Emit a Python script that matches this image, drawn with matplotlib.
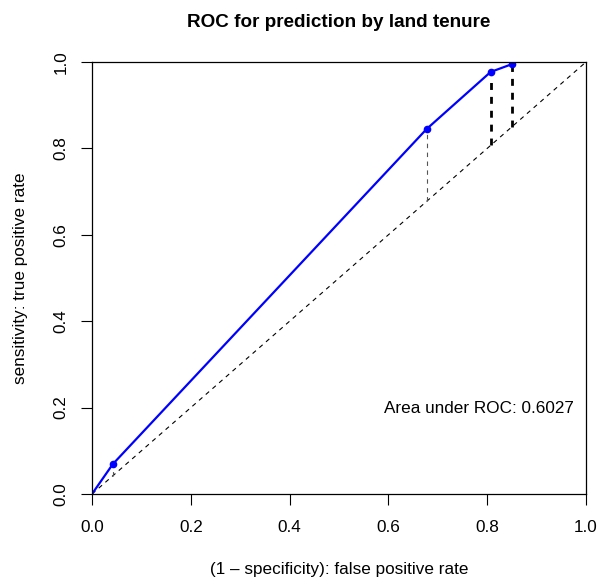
"""ROC curve for prediction by land tenure (R-style base plot)."""

import matplotlib
matplotlib.use("Agg")
import matplotlib.pyplot as plt

plt.rcParams["font.family"] = ["Liberation Sans", "DejaVu Sans"]

# ROC points: false positive rate / true positive rate
fpr = [0.0, 0.042, 0.6775, 0.807, 0.850]
tpr = [0.0, 0.069, 0.845, 0.977, 0.995]
# line width of the vertical "lift" segment at each cut point
seg_width = [0.8, 0.8, 0.8, 2.0, 2.0]
seg_color = ["#555555", "#555555", "#555555", "black", "black"]
auc = 0.6027
ticks = [0.0, 0.2, 0.4, 0.6, 0.8, 1.0]

fig = plt.figure(figsize=(5.99, 5.81), dpi=100)
ax = fig.add_axes([92 / 599, 87 / 581, 494 / 599, 432 / 581])

# chance diagonal
ax.plot([0, 1], [0, 1], color="black", lw=0.8, ls=(0, (4, 4)))

# vertical segments from each point down to the diagonal
for x, y, w, c in zip(fpr[1:], tpr[1:], seg_width[1:], seg_color[1:]):
    ax.plot([x, x], [x, y], color=c, lw=w, ls=(0, (2.5, 2.5)) if w > 1 else (0, (4, 4)))

ax.plot(fpr, tpr, color="blue", lw=1.6, solid_capstyle="round")
ax.plot(fpr[1:], tpr[1:], "o", color="blue", ms=4.5)

ax.text(0.783, 0.199, f"Area under ROC: {auc:.4f}", ha="center", va="center",
        fontsize=12.3)

ax.set_xlim(0, 1)
ax.set_ylim(0, 1)
ax.set_xticks(ticks)
ax.set_yticks(ticks)
ax.set_xticklabels([f"{t:.1f}" for t in ticks])
ax.set_yticklabels([f"{t:.1f}" for t in ticks], rotation=90, va="center")
ax.tick_params(direction="out", length=8, width=0.8, labelsize=12.3)
ax.tick_params(axis="x", pad=11)
ax.tick_params(axis="y", pad=9)
for s in ax.spines.values():
    s.set_linewidth(0.9)

ax.set_title("ROC for prediction by land tenure", fontsize=13.6,
             fontweight="bold", pad=25)
ax.set_xlabel("(1 \u2013 specificity): false positive rate", fontsize=12.3,
              labelpad=19)
ax.set_ylabel("sensitivity: true positive rate", fontsize=12.3, labelpad=18)

fig.savefig("out.png", dpi=100)
